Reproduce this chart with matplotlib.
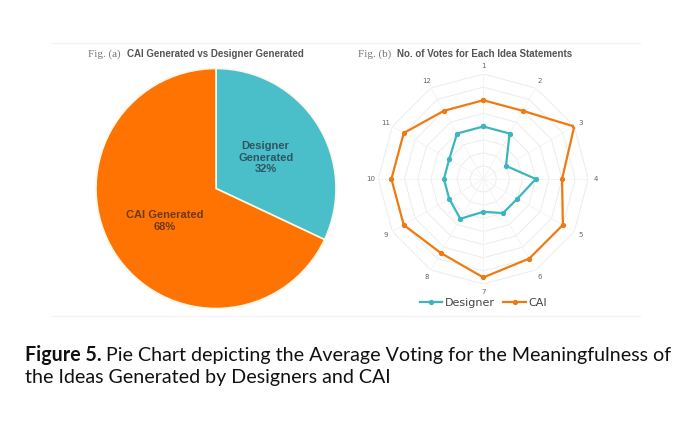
import matplotlib
matplotlib.use('Agg')
import matplotlib.pyplot as plt
import numpy as np

# pie data
pie_labels = ['Designer\nGenerated\n32%', 'CAI Generated\n68%']
pie_values = [32, 68]
pie_colors = ['#4abfc9', '#ff7302']

# radar data (average votes per idea statement)
ideas = ['1', '2', '3', '4', '5', '6', '7', '8', '9', '10', '11', '12']
designer = [4, 4, 2, 4, 3, 3, 2.5, 3.5, 3, 3, 3, 4]
cai = [6, 6, 8, 6, 7, 7, 7.5, 6.5, 7, 7, 7, 6]

W, H = 691, 422
fig = plt.figure(figsize=(W / 100, H / 100), dpi=100)

# faint frame lines around the panels
for yy in (43, 316):
    fig.add_artist(plt.Line2D([52 / W, 640 / W], [1 - yy / H, 1 - yy / H], color='#f2f2f2', lw=0.8))

# ---- Fig (a) pie ----
pcx, pcy, pr = 216, 188.5, 120
ax1 = fig.add_axes([(pcx - pr) / W, 1 - (pcy + pr) / H, 2 * pr / W, 2 * pr / H])
ax1.pie(pie_values, colors=pie_colors, startangle=90, counterclock=False,
        wedgeprops=dict(edgecolor='#fbf6e8', linewidth=1.2))
ax1.set_xlim(-1, 1)
ax1.set_ylim(-1, 1)
ax1.set_aspect('equal')
ax1.text(0.414, 0.257, pie_labels[0], ha='center', va='center', fontsize=8,
         fontweight='bold', color='#2f5560', family='Liberation Sans', linespacing=1.15)
ax1.text(-0.43, -0.27, pie_labels[1], ha='center', va='center', fontsize=8,
         fontweight='bold', color='#6b3a12', family='Liberation Sans', linespacing=1.15)

fig.text(88 / W, 1 - 54 / H, 'Fig. (a)', fontsize=8, color='#777777',
         family='Liberation Serif', va='center')
fig.text(127 / W, 1 - 54 / H, 'CAI Generated vs Designer Generated', fontsize=7,
         fontweight='bold', color='#555555', family='Liberation Sans', va='center')
fig.text(358 / W, 1 - 54 / H, 'Fig. (b)', fontsize=8, color='#777777',
         family='Liberation Serif', va='center')
fig.text(397 / W, 1 - 54 / H, 'No. of Votes for Each Idea Statements', fontsize=7,
         fontweight='bold', color='#555555', family='Liberation Sans', va='center')

# ---- Fig (b) radar ----
R = 8
cx, cy, rp = 483.3, 179, 105
ax2 = fig.add_axes([(cx - rp) / W, 1 - (cy + rp) / H, 2 * rp / W, 2 * rp / H], projection='polar')
ax2.set_theta_zero_location('N')
ax2.set_theta_direction(-1)
ax2.set_ylim(0, R)
ax2.grid(False)
ax2.spines['polar'].set_visible(False)
ax2.set_xticks([])
ax2.set_yticks([])

n = len(ideas)
ang = np.arange(n) * 2 * np.pi / n
ang_c = np.append(ang, ang[0])
for r in range(1, R + 1):
    ax2.plot(ang_c, [r] * (n + 1), color='#ececec', lw=0.7, zorder=1)
for a in ang:
    ax2.plot([a, a], [0, R], color='#f3f3f3', lw=0.6, zorder=1)
for a, lab in zip(ang, ideas):
    ax2.text(a, R * 1.075, lab, ha='center', va='center', fontsize=5, color='#666666')

ax2.plot(ang_c, designer + designer[:1], color='#3db5bf', lw=1.6, marker='o', ms=2.8,
         label='Designer', zorder=3)
ax2.plot(ang_c, cai + cai[:1], color='#f07a10', lw=1.6, marker='o', ms=2.8,
         label='CAI', zorder=3)
ax2.legend(loc='center', bbox_to_anchor=(0.5, -0.09), ncol=2, frameon=False, fontsize=8,
           handlelength=2.0, handletextpad=0.2, columnspacing=0.8, labelcolor='#444444')

# ---- caption ----
fs = 14.1
t1 = fig.text(25 / W, 1 - 355 / H, 'Figure 5.', fontsize=fs, fontweight='bold',
              family='Lato', va='center', color='#111111')
fig.canvas.draw()
bb = t1.get_window_extent()
fig.text((bb.x1 + 4) / W, 1 - 355 / H,
         'Pie Chart depicting the Average Voting for the Meaningfulness of',
         fontsize=fs, family='Lato', va='center', color='#111111')
fig.text(25 / W, 1 - 378 / H, 'the Ideas Generated by Designers and CAI',
         fontsize=fs, family='Lato', va='center', color='#111111')

fig.savefig('out.png', dpi=100)
